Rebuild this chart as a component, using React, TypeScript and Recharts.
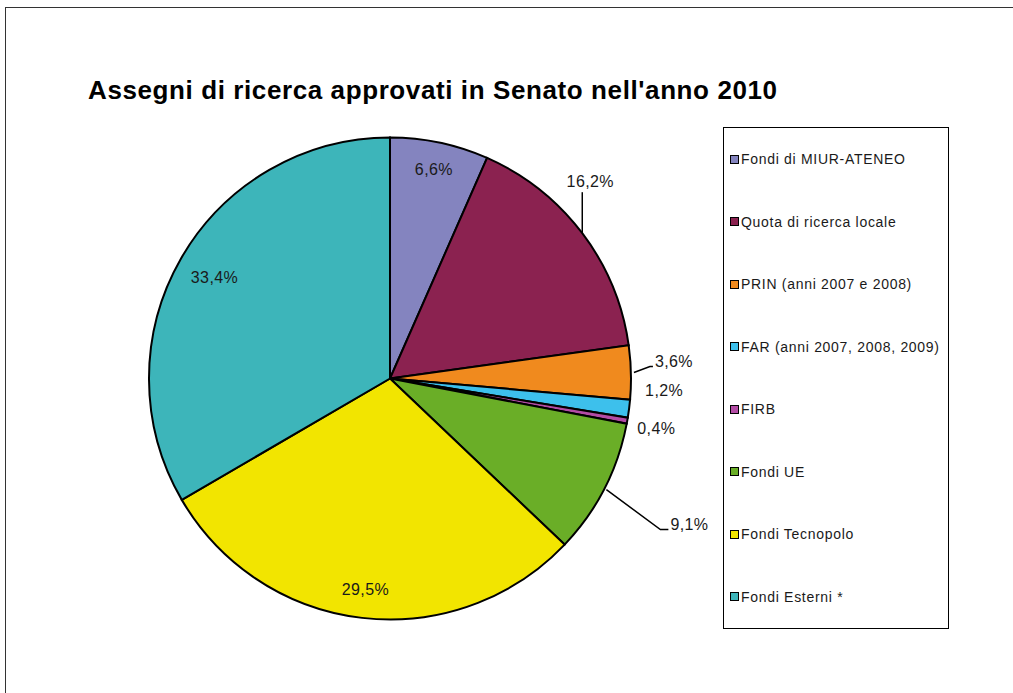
import React from "react";
import { PieChart, Pie, Cell, Legend } from "recharts";

const categories = [
  "Fondi di MIUR-ATENEO",
  "Quota di ricerca locale",
  "PRIN (anni 2007 e 2008)",
  "FAR (anni 2007, 2008, 2009)",
  "FIRB",
  "Fondi UE",
  "Fondi Tecnopolo",
  "Fondi Esterni *",
];
const shares = [6.6, 16.2, 3.6, 1.2, 0.4, 9.1, 29.5, 33.4];
const colors = ["#8484BF", "#8B2250", "#F08A1E", "#3DC0EC", "#B34CA5", "#6AAE27", "#F2E500", "#3DB5BA"];

const data = categories.map((name, i) => ({ name, value: shares[i] }));

// how each percentage label is placed relative to its slice
const labelLayout: any[] = [
  { kind: "in", r: 0.885 },
  { kind: "lead", path: [[0, 0], [0, -41]], tx: 8, ty: -52, anchor: "middle" },
  { kind: "lead", path: [[3, 0], [19, -6], [22, -6]], tx: 24, ty: -11, anchor: "start" },
  { kind: "out", tx: 16, ty: -18, anchor: "start" },
  { kind: "out", tx: 10, ty: 8, anchor: "start" },
  { kind: "lead", path: [[2, 1], [56, 41], [64, 41]], tx: 66, ty: 36, anchor: "start" },
  { kind: "in", r: 0.88 },
  { kind: "in", r: 0.84 },
];

const RAD = Math.PI / 180;
const fmt = (v: number) => v.toFixed(1).replace(".", ",") + "%";
const font = "'Liberation Sans', Arial, sans-serif";

const renderLabel = (props: any) => {
  const { cx, cy, midAngle, outerRadius, index, value } = props;
  const spec = labelLayout[index];
  const cos = Math.cos(-midAngle * RAD);
  const sin = Math.sin(-midAngle * RAD);
  const textProps = {
    fontFamily: font,
    fontSize: 16,
    letterSpacing: 0.4,
    fill: "#1a1a1a",
    dominantBaseline: "central" as const,
  };
  if (spec.kind === "in") {
    const r = outerRadius * spec.r;
    return (
      <text x={cx + r * cos} y={cy + r * sin} textAnchor="middle" {...textProps}>
        {fmt(value)}
      </text>
    );
  }
  const ex = cx + outerRadius * cos;
  const ey = cy + outerRadius * sin;
  return (
    <g>
      {spec.kind === "lead" && (
        <polyline
          points={spec.path.map((p: number[]) => `${ex + p[0]},${ey + p[1]}`).join(" ")}
          fill="none"
          stroke="#000"
          strokeWidth={1.5}
        />
      )}
      <text x={ex + spec.tx} y={ey + spec.ty} textAnchor={spec.anchor} {...textProps}>
        {fmt(value)}
      </text>
    </g>
  );
};

const renderLegend = (props: any) => {
  const { payload } = props;
  return (
    <div style={{ width: "100%", height: "100%", border: "1px solid #000", boxSizing: "border-box", background: "#fff" }}>
      {payload.map((entry: any, i: number) => (
        <div
          key={i}
          style={{
            height: `${100 / payload.length}%`,
            display: "flex",
            alignItems: "center",
            paddingLeft: 6,
            fontFamily: font,
            fontSize: 14,
            letterSpacing: 0.7,
            color: "#1a1a1a",
            whiteSpace: "nowrap",
          }}
        >
          <span style={{ width: 7, height: 7, border: "1px solid #000", background: entry.color, marginRight: 2, display: "inline-block", flexShrink: 0 }} />
          {entry.value}
        </div>
      ))}
    </div>
  );
};

export default function App() {
  return (
    <div style={{ position: "absolute", left: 0, top: 0, width: 1013, height: 693, background: "#fff", overflow: "hidden" }}>
      <div style={{ position: "absolute", left: 5, top: 7, width: 1030, height: 720, border: "1px solid #333" }} />
      <div
        style={{
          position: "absolute",
          left: 88,
          top: 75,
          fontFamily: font,
          fontWeight: "bold",
          fontSize: 26,
          letterSpacing: 0.6,
          color: "#000",
          whiteSpace: "nowrap",
        }}
      >
        Assegni di ricerca approvati in Senato nell'anno 2010
      </div>
      <div style={{ position: "absolute", left: 0, top: 0 }}>
        <PieChart width={1013} height={693} margin={{ top: 0, right: 0, bottom: 0, left: 0 }}>
          <Pie
            data={data}
            dataKey="value"
            nameKey="name"
            cx={390}
            cy={378.5}
            outerRadius={241}
            startAngle={90}
            endAngle={-270}
            stroke="#000"
            strokeWidth={2}
            label={renderLabel}
            labelLine={false}
            isAnimationActive={false}
          >
            {data.map((d, i) => (
              <Cell key={d.name} fill={colors[i]} />
            ))}
          </Pie>
          <Legend
            content={renderLegend}
            itemSorter={null}
            wrapperStyle={{ position: "absolute", left: 723, top: 127, width: 226, height: 502 }}
          />
        </PieChart>
      </div>
    </div>
  );
}
